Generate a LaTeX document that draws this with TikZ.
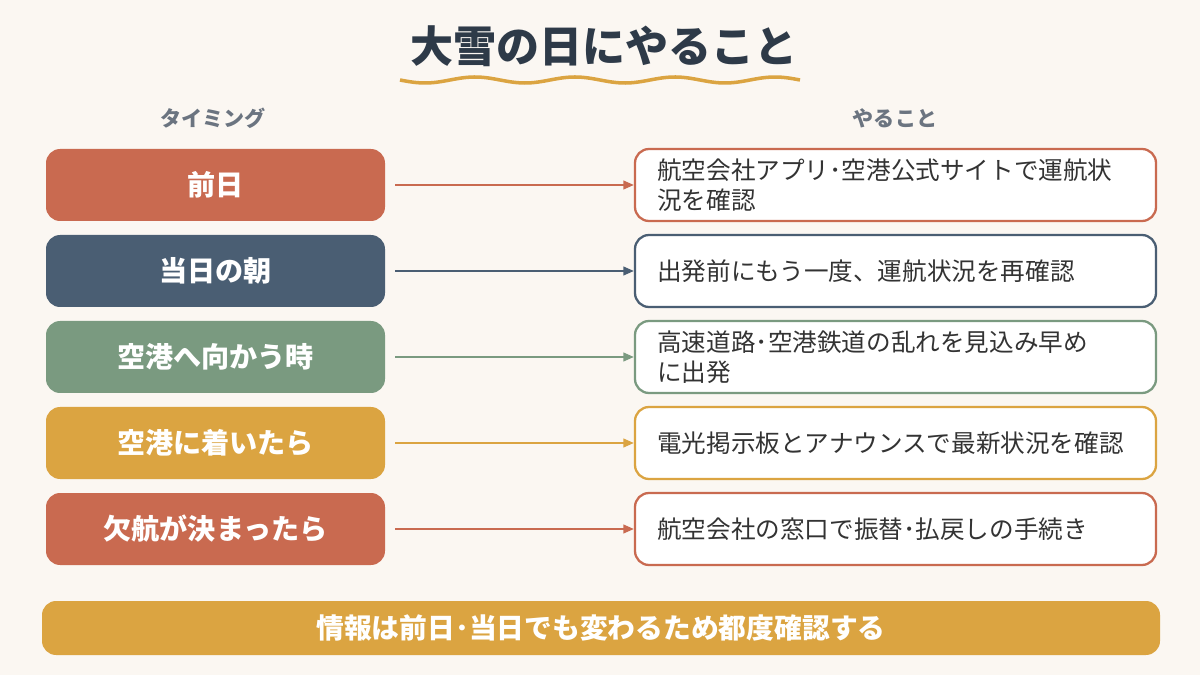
\documentclass[tikz,border=0pt]{standalone}
\usepackage{fontspec}
\setmainfont{Noto Sans CJK JP}
\usetikzlibrary{arrows.meta}
\definecolor{bg}{HTML}{FBF7F2}
\definecolor{terra}{HTML}{C96A50}
\definecolor{slate}{HTML}{4A5E73}
\definecolor{sage}{HTML}{7A9A80}
\definecolor{gold}{HTML}{DBA441}
\definecolor{titlec}{HTML}{2E3A48}
\definecolor{headc}{HTML}{6B7480}
\definecolor{txt}{HTML}{333333}
\begin{document}
\begin{tikzpicture}[x=0.02cm,y=-0.02cm,
  left/.style={rounded corners=8pt,minimum width=339*0.02cm,minimum height=72*0.02cm,text=white,font=\fontsize{16}{19}\selectfont\bfseries,inner sep=0pt},
  right/.style={draw=#1,line width=1.3pt,fill=white,rounded corners=8pt,minimum width=521*0.02cm,minimum height=72*0.02cm,inner sep=0pt},
  rtext/.style={anchor=west,align=left,text=txt,font=\fontsize{14}{17}\selectfont,inner sep=0pt},
  arr/.style={draw=#1,line width=1pt,-{Triangle[length=6pt,width=5pt]}}]
\fill[bg] (0,0) rectangle (1200,675);
\useasboundingbox (0,0) rectangle (1200,675);
\node[font=\fontsize{24.5}{28}\selectfont\bfseries,text=titlec] (title) at (604,46) {大雪の日にやること};
\draw[gold,line width=2pt] plot[domain=0:400,samples=120,smooth] ({400+\x},{80+3*sin(3.6*\x)});
\node[text=headc,font=\fontsize{12}{14}\selectfont\bfseries] (h1) at (213,118) {タイミング};
\node[text=headc,font=\fontsize{12}{14}\selectfont\bfseries] (h2) at (895,118) {やること};
\foreach \i/\y/\c/\l/\r in {1/185/terra/前日/{航空会社アプリ･空港公式サイトで運航状\\況を確認},
  2/271/slate/当日の朝/{出発前にもう一度、運航状況を再確認},
  3/357/sage/空港へ向かう時/{高速道路･空港鉄道の乱れを見込み早め\\に出発},
  4/443/gold/空港に着いたら/{電光掲示板とアナウンスで最新状況を確認},
  5/529/terra/欠航が決まったら/{航空会社の窓口で振替･払戻しの手続き}}{
  \node[left,fill=\c] (L\i) at (215.5,\y) {\l};
  \node[right=\c] (R\i) at (895.5,\y) {};
  \node[rtext] (T\i) at (657,\y) {\r};
  \coordinate (A\i) at (395,\y);
  \draw[arr=\c] (A\i) -- (R\i.west);
}
\node[fill=gold,rounded corners=8pt,minimum width=1118*0.02cm,minimum height=54*0.02cm,text=white,font=\fontsize{15.8}{18}\selectfont\bfseries] (bar) at (601,628) {情報は前日･当日でも変わるため都度確認する};
\end{tikzpicture}
\end{document}
